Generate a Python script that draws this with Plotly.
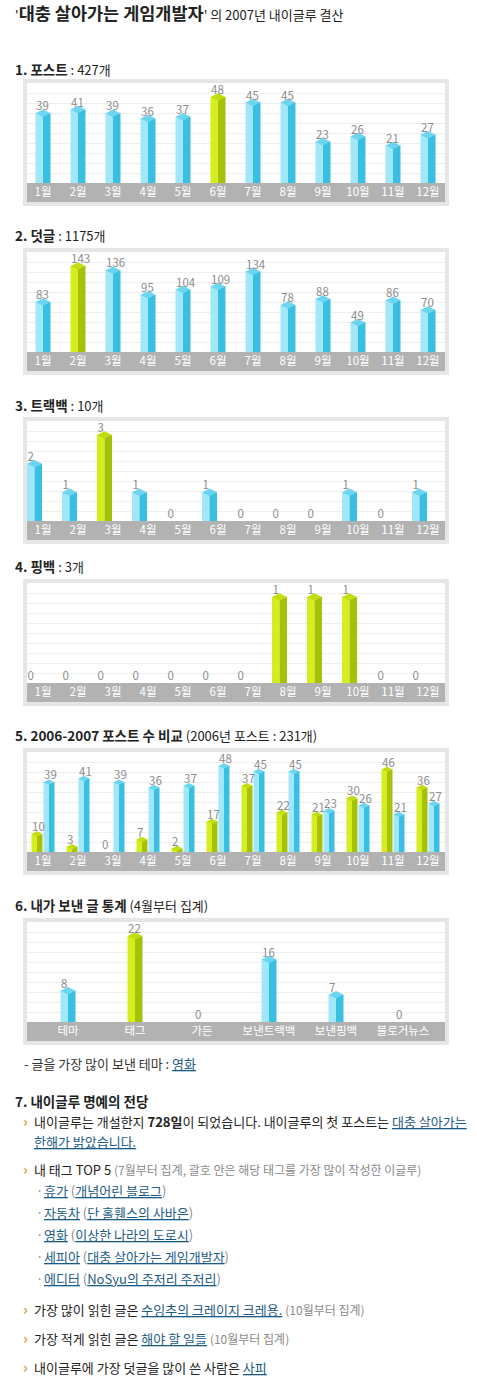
import plotly.graph_objects as go

W, H = 477, 1394
FONT = "Noto Sans CJK KR, Noto Sans, sans-serif"

# ---------------- data ----------------
months = ['1월', '2월', '3월', '4월', '5월', '6월', '7월', '8월', '9월', '10월', '11월', '12월']
posts_2007 = [39, 41, 39, 36, 37, 48, 45, 45, 23, 26, 21, 27]
comments_2007 = [83, 143, 136, 95, 104, 109, 134, 78, 88, 49, 86, 70]
trackbacks_2007 = [2, 1, 3, 1, 0, 1, 0, 0, 0, 1, 0, 1]
pingbacks_2007 = [0, 0, 0, 0, 0, 0, 0, 1, 1, 1, 0, 0]
posts_2006 = [10, 3, 0, 7, 2, 17, 37, 22, 21, 30, 46, 36]
sent_types = ['테마', '태그', '가든', '보낸트랙백', '보낸핑백', '블로거뉴스']
sent_counts = [8, 22, 0, 16, 7, 0]

# ---------------- styles ----------------
BLUE = ('#9fe7f9', '#39bfe2', '#6dd5ef')    # front, side, cap
GREEN = ('#d6ee1e', '#a6c10a', '#c3dd12')
VAL_COLOR = '#8c8c8c'
PLOT_L, PLOT_R = 27, 445

fig = go.Figure()
layout = dict(width=W, height=H, margin=dict(l=0, r=0, t=0, b=0, pad=0),
              paper_bgcolor='white', plot_bgcolor='rgba(0,0,0,0)',
              showlegend=False, barmode='overlay', shapes=[], annotations=[],
              font=dict(family=FONT))


def fy(py):
    return 1 - py / H


def fx(px):
    return px / W


def rect(x0, y0, x1, y1, color):
    layout['shapes'].append(dict(type='rect', xref='paper', yref='paper',
                                 x0=fx(x0), x1=fx(x1), y0=fy(y1), y1=fy(y0),
                                 fillcolor=color, line=dict(width=0), layer='below'))


def add_chart(k, baseline, cats, series, unit_px, first_px, bar_px, shift_px=0):
    """series: list of (values, palette_fn, left_edge_px_relative_to_center)"""
    xs = 'x' if k == 1 else f'x{k}'
    ys = 'y' if k == 1 else f'y{k}'
    xa = 'xaxis' if k == 1 else f'xaxis{k}'
    ya = 'yaxis' if k == 1 else f'yaxis{k}'
    n = len(cats)
    x0 = -(first_px - PLOT_L) / unit_px
    x1 = (n - 1) + (PLOT_R - (first_px + (n - 1) * unit_px)) / unit_px
    vmax = max(max(s[0]) for s in series)
    R = vmax / 0.86
    # frame
    rect(23, baseline - 104, 449, baseline + 23, '#e6e6e6')
    rect(PLOT_L, baseline - 100, PLOT_R, baseline, 'white')
    rect(PLOT_L, baseline, PLOT_R, baseline + 19, '#b2b2b2')
    layout[xa] = dict(domain=[fx(PLOT_L), fx(PLOT_R)], range=[x0, x1], anchor=ys,
                      tickmode='array', tickvals=list(range(n)), ticktext=cats,
                      tickfont=dict(color='white', size=11.5, family=FONT),
                      showgrid=False, zeroline=False, showline=False, ticks='',
                      fixedrange=True)
    layout[ya] = dict(domain=[fy(baseline), fy(baseline - 100)], range=[0, R], anchor=xs,
                      tick0=0, dtick=R / 10, showticklabels=False, showgrid=True,
                      gridcolor='#efefef', gridwidth=1, zeroline=False, fixedrange=True)
    idx = list(range(n))
    for vals, pal, left_px in series:
        half = bar_px / 2 / unit_px
        left = (left_px + shift_px) / unit_px
        fronts = [pal(v, vmax)[0] for v in vals]
        sides = [pal(v, vmax)[1] for v in vals]
        caps = [pal(v, vmax)[2] for v in vals]
        fig.add_trace(go.Bar(x=idx, y=vals, width=half, offset=left,
                             marker=dict(color=fronts, line=dict(width=0)),
                             xaxis=xs, yaxis=ys, hoverinfo='skip'))
        fig.add_trace(go.Bar(x=idx, y=vals, width=half, offset=left + half,
                             marker=dict(color=sides, line=dict(width=0)),
                             xaxis=xs, yaxis=ys, hoverinfo='skip'))
        nz = [i for i, v in enumerate(vals) if v > 0]
        fig.add_trace(go.Scatter(x=[i + left + half for i in nz], y=[vals[i] for i in nz],
                                 mode='markers',
                                 marker=dict(symbol='diamond-wide', size=bar_px / 1.4,
                                             color=[caps[i] for i in nz], line=dict(width=0)),
                                 xaxis=xs, yaxis=ys, hoverinfo='skip'))
        fig.add_trace(go.Scatter(x=[i + left + 0.5 / unit_px for i in idx], y=vals,
                                 mode='text', text=[str(v) for v in vals],
                                 textposition='top right', cliponaxis=False,
                                 marker=dict(size=6),
                                 textfont=dict(color=VAL_COLOR, size=11.5, family=FONT),
                                 xaxis=xs, yaxis=ys, hoverinfo='skip'))


def pal_max(v, vmax):
    return GREEN if v == vmax else BLUE


def pal_green(v, vmax):
    return GREEN


def pal_blue(v, vmax):
    return BLUE


M_UNIT, M_FIRST = 35, 43
add_chart(1, 183, months, [(posts_2007, pal_max, -7.5)], M_UNIT, M_FIRST, 15)
add_chart(2, 352, months, [(comments_2007, pal_max, -7.5)], M_UNIT, M_FIRST, 15)
add_chart(3, 521, months, [(trackbacks_2007, pal_max, -7.5)], M_UNIT, M_FIRST, 15, shift_px=-8.5)
add_chart(4, 683, months, [(pingbacks_2007, pal_max, -7.5)], M_UNIT, M_FIRST, 15, shift_px=-8.5)
add_chart(5, 852, months, [(posts_2006, pal_green, -11.5), (posts_2007, pal_blue, 0.5)],
          M_UNIT, M_FIRST, 11)
add_chart(6, 1022, sent_types, [(sent_counts, pal_max, -7.5)], 67, 68, 15)

# ---------------- text ----------------
LINK = '#1b5b87'
GRAY = '#8a8a8a'
DARK = '#222222'


def txt(x, y, s, size=13, color=DARK):
    layout['annotations'].append(dict(x=fx(x), y=fy(y), xref='paper', yref='paper',
                                      text=s, showarrow=False, xanchor='left', yanchor='middle',
                                      align='left', font=dict(size=size, color=color, family=FONT)))


def link(s):
    return f"<span style='color:{LINK}'><u>{s}</u></span>"


def gray(s):
    return f"<span style='color:{GRAY};font-size:12px'>{s}</span>"


def head(s):
    return f"<span style='font-size:13.5px'><b>{s}</b></span>"


def arrow(y):
    txt(21, y - 1, '<b>›</b>', size=15, color='#e3a23a')


def bullet(y):
    txt(34, y, '·', size=13, color=GRAY)


txt(13, 13, "'<span style='font-size:17.5px'><b>대충 살아가는 게임개발자</b></span>' 의 2007년 내이글루 결산")
txt(13, 69, head('1. 포스트') + f" : {sum(posts_2007)}개")
txt(13, 235, head('2. 덧글') + f" : {sum(comments_2007)}개")
txt(13, 405, head('3. 트랙백') + f" : {sum(trackbacks_2007)}개")
txt(13, 566, head('4. 핑백') + f" : {sum(pingbacks_2007)}개")
txt(13, 735, head('5. 2006-2007 포스트 수 비교') + f" (2006년 포스트 : {sum(posts_2006)}개)")
txt(13, 905, head('6. 내가 보낸 글 통계') + " (4월부터 집계)")
txt(22, 1063, "- 글을 가장 많이 보낸 테마 : " + link('영화'), color='#333333')
txt(13, 1101, head('7. 내이글루 명예의 전당'))

arrow(1121)
txt(32, 1121, "내이글루는 개설한지 <b>728일</b>이 되었습니다. 내이글루의 첫 포스트는 " + link('대충 살아가는'))
txt(32, 1141, link('한해가 밝았습니다.'))
arrow(1169)
txt(32, 1169, "내 태그 TOP 5 " + gray('(7월부터 집계, 괄호 안은 해당 태그를 가장 많이 작성한 이글루)'))
tags = [('휴가', '개념어린 블로그'), ('자동차', '단 홀휀스의 사바은'), ('영화', '이상한 나라의 도로시'),
        ('세피아', '대충 살아가는 게임개발자'), ('에디터', 'NoSyu의 주저리 주저리')]
for j, (t, b) in enumerate(tags):
    yy = 1190 + 22 * j
    bullet(yy)
    txt(42, yy, link(t) + f" <span style='color:{GRAY}'>(</span>" + link(b) + f"<span style='color:{GRAY}'>)</span>")
arrow(1309)
txt(32, 1309, "가장 많이 읽힌 글은 " + link('수잉추의 크레이지 크레용.') + " " + gray('(10월부터 집계)'))
arrow(1338)
txt(32, 1338, "가장 적게 읽힌 글은 " + link('해야 할 일들') + " " + gray('(10월부터 집계)'))
arrow(1367)
txt(32, 1367, "내이글루에 가장 덧글을 많이 쓴 사람은 " + link('사피'))

fig.update_layout(**layout)
fig.write_html("out.html")
